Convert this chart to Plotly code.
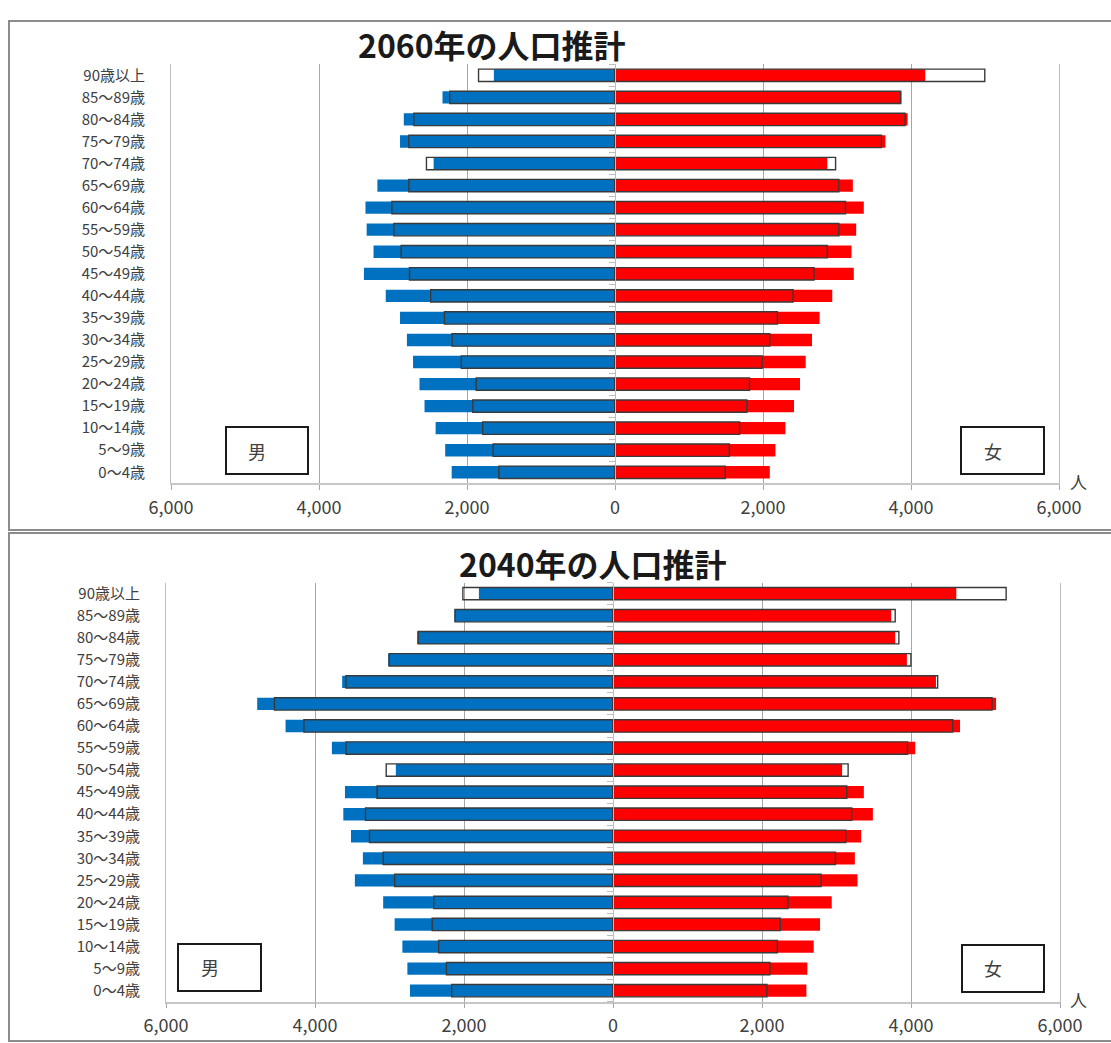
import plotly.graph_objects as go

W, H = 1111, 1043

ages = ["0～4歳", "5～9歳", "10～14歳", "15～19歳", "20～24歳", "25～29歳", "30～34歳",
        "35～39歳", "40～44歳", "45～49歳", "50～54歳", "55～59歳", "60～64歳", "65～69歳",
        "70～74歳", "75～79歳", "80～84歳", "85～89歳", "90歳以上"]

# 2060 projection
m2060_fill = [2207, 2295, 2424, 2574, 2642, 2729, 2812, 2905, 3098, 3393, 3263, 3356, 3372, 3211, 2451, 2905, 2854, 2331, 1637]
m2060_line = [1570, 1647, 1788, 1922, 1876, 2077, 2202, 2305, 2491, 2777, 2890, 2988, 3015, 2786, 2548, 2786, 2718, 2233, 1844]
f2060_fill = [2092, 2168, 2303, 2419, 2500, 2577, 2662, 2765, 2936, 3227, 3196, 3259, 3362, 3214, 2869, 3654, 3954, 3870, 4193]
f2060_line = [1490, 1544, 1684, 1782, 1818, 1988, 2092, 2195, 2406, 2689, 2869, 3025, 3115, 3025, 2981, 3600, 3919, 3860, 4997]

# 2040 projection
m2040_fill = [2725, 2760, 2827, 2931, 3085, 3465, 3357, 3517, 3620, 3598, 2915, 3773, 4395, 4776, 3635, 3018, 2627, 2129, 1800]
m2040_line = [2165, 2236, 2340, 2427, 2406, 2931, 3085, 3269, 3322, 3167, 3044, 3584, 4149, 4544, 3584, 3005, 2615, 2120, 2015]
f2040_fill = [2596, 2609, 2694, 2779, 2936, 3282, 3246, 3331, 3488, 3367, 3075, 4057, 4658, 5142, 4335, 3945, 3788, 3734, 4608]
f2040_line = [2066, 2106, 2206, 2246, 2349, 2793, 2986, 3125, 3205, 3138, 3156, 3954, 4560, 5088, 4358, 3999, 3837, 3788, 5277]

titles = ["2060年の人口推計", "2040年の人口推計"]
tick_vals = [-6000, -4000, -2000, 0, 2000, 4000, 6000]
tick_text = ["6,000", "4,000", "2,000", "0", "2,000", "4,000", "6,000"]

BLUE = "#0070C0"
RED = "#FF0000"
OUTLINE = "#3a3a3a"
GRID = "#a6a6a6"
LABEL = "#404040"
FONT = "Noto Sans CJK JP"


def px(x):
    return x / W


def py(y):
    return 1 - y / H


fig = go.Figure()

panels = [
    dict(data=(m2060_fill, m2060_line, f2060_fill, f2060_line), xa="x", ya="y", ya2="y2",
         xdom=(171, 1059), ydom=(64.3, 483.3)),
    dict(data=(m2040_fill, m2040_line, f2040_fill, f2040_line), xa="x2", ya="y3", ya2="y4",
         xdom=(166, 1060), ydom=(582.6, 1001.7)),
]

BW = 0.56
for p in panels:
    mf, ml, ff, fl = p["data"]
    fig.add_trace(go.Bar(y=ages, x=[-v for v in mf], orientation="h", marker=dict(color=BLUE, line=dict(width=0)),
                         width=BW, xaxis=p["xa"], yaxis=p["ya"], showlegend=False))
    fig.add_trace(go.Bar(y=ages, x=ff, orientation="h", marker=dict(color=RED, line=dict(width=0)),
                         width=BW, xaxis=p["xa"], yaxis=p["ya"], showlegend=False))
    fig.add_trace(go.Bar(y=ages, x=[-v for v in ml], orientation="h",
                         marker=dict(color="rgba(255,255,255,0)", line=dict(color=OUTLINE, width=1.4)),
                         width=BW, xaxis=p["xa"], yaxis=p["ya2"], showlegend=False))
    fig.add_trace(go.Bar(y=ages, x=fl, orientation="h",
                         marker=dict(color="rgba(255,255,255,0)", line=dict(color=OUTLINE, width=1.4)),
                         width=BW, xaxis=p["xa"], yaxis=p["ya2"], showlegend=False))

layout = dict(
    width=W, height=H, margin=dict(l=0, r=0, t=0, b=0, autoexpand=False), barmode="overlay",
    paper_bgcolor="white", plot_bgcolor="white",
    font=dict(family=FONT, color=LABEL, size=15),
    showlegend=False,
)

for i, p in enumerate(panels):
    xname = "xaxis" if i == 0 else "xaxis2"
    yname = "yaxis" if i == 0 else "yaxis3"
    y2name = "yaxis2" if i == 0 else "yaxis4"
    yref = "y" if i == 0 else "y3"
    xref = "x" if i == 0 else "x2"
    x0, x1 = p["xdom"]
    yt, yb = p["ydom"]
    layout[xname] = dict(
        domain=[px(x0), px(x1)], anchor=yref, range=[-6000, 6000], automargin=False,
        tickvals=tick_vals, ticktext=tick_text, ticks="outside", ticklen=5, tickcolor=GRID,
        showgrid=True, gridcolor=GRID, gridwidth=1, zeroline=False,
        showline=True, linecolor="#c8c8c8", linewidth=1.5,
        tickfont=dict(size=18, color=LABEL, family=FONT), ticklabelstandoff=2, fixedrange=True,
    )
    layout[yname] = dict(
        domain=[py(yb), py(yt)], anchor=xref, type="category", automargin=False,
        categoryorder="array", categoryarray=ages, range=[-0.5, 18.5],
        showgrid=False, zeroline=False, ticks="", showline=True, mirror=True,
        linecolor="#bdbdbd", linewidth=1,
        tickfont=dict(size=15, color=LABEL, family=FONT), ticklabelstandoff=22,
    )
    layout[y2name] = dict(
        overlaying=yref, anchor="free", position=px((x0 + x1) / 2), side="left", automargin=False,
        type="category", categoryorder="array", categoryarray=ages, range=[-0.5, 18.5],
        showgrid=False, zeroline=False, showticklabels=False,
        ticks="outside", tickson="boundaries", ticklen=6, tickcolor="#bdbdbd",
        showline=True, linecolor="#bdbdbd", linewidth=1,
    )

fig.update_layout(**layout)

# panel frames
for (y0, y1) in [(21, 530), (533, 1041)]:
    fig.add_shape(type="rect", xref="paper", yref="paper", x0=px(9), x1=px(1116), y0=py(y1), y1=py(y0),
                  line=dict(color="#8c8c8c", width=2), fillcolor="rgba(0,0,0,0)", layer="above")

# titles
for t, (cx, cy) in zip(titles, [(492, 44), (593, 563)]):
    fig.add_annotation(x=px(cx), y=py(cy), xref="paper", yref="paper", text=f"<b>{t}</b>",
                       showarrow=False, font=dict(size=32, color="#1a1a1a", family=FONT),
                       xanchor="center", yanchor="middle")

# gender boxes
boxes = [
    ("男", (226, 427, 308, 474), (257, 451)),
    ("女", (961, 427, 1044, 474), (993, 451)),
    ("男", (178, 944, 261, 991), (210, 967)),
    ("女", (962, 945, 1044, 992), (993, 968)),
]
for txt, (bx0, by0, bx1, by1), (tx, ty) in boxes:
    fig.add_shape(type="rect", xref="paper", yref="paper", x0=px(bx0), x1=px(bx1), y0=py(by1), y1=py(by0),
                  line=dict(color="#1a1a1a", width=2), fillcolor="white", layer="above")
    fig.add_annotation(x=px(tx), y=py(ty), xref="paper", yref="paper", text=txt, showarrow=False,
                       font=dict(size=18, color="#404040", family=FONT), xanchor="center", yanchor="middle")

# unit label
for (ux, uy) in [(1078, 481), (1078, 999)]:
    fig.add_annotation(x=px(ux), y=py(uy), xref="paper", yref="paper", text="人", showarrow=False,
                       font=dict(size=17, color="#404040", family=FONT), xanchor="center", yanchor="middle")

fig.write_html("out.html", config={"displayModeBar": False},
               post_script="document.body.style.margin='0';document.body.style.overflow='hidden';")
